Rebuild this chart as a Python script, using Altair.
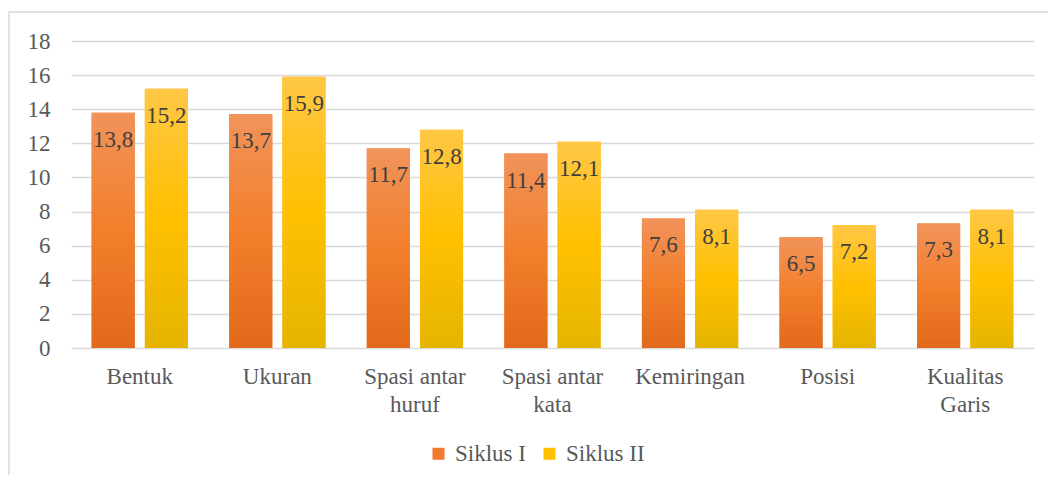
import altair as alt
import pandas as pd

categories = ["Bentuk", "Ukuran", "Spasi antar huruf", "Spasi antar kata",
              "Kemiringan", "Posisi", "Kualitas Garis"]
series = ["Siklus I", "Siklus II"]
siklus1 = [13.8, 13.7, 11.7, 11.4, 7.6, 6.5, 7.3]
siklus2 = [15.2, 15.9, 12.8, 12.1, 8.1, 7.2, 8.1]
wrapped = {
    "Spasi antar huruf": ["Spasi antar", "huruf"],
    "Spasi antar kata": ["Spasi antar", "kata"],
    "Kualitas Garis": ["Kualitas", "Garis"],
}

rows = []
for c, a, b in zip(categories, siklus1, siklus2):
    rows.append({"category": c, "series": series[0], "value": a})
    rows.append({"category": c, "series": series[1], "value": b})
df = pd.DataFrame(rows)

FONT = "'Liberation Serif', 'Times New Roman', 'DejaVu Serif', serif"
FS = 23
label_expr = ""
for k, v in wrapped.items():
    label_expr += f"datum.label == '{k}' ? ['{v[0]}', '{v[1]}'] : "
label_expr += "datum.label"

grad1 = alt.LinearGradient(gradient="linear", x1=0, y1=0, x2=0, y2=1, stops=[
    alt.GradientStop(offset=0, color="#F1935A"),
    alt.GradientStop(offset=0.5, color="#F27F2C"),
    alt.GradientStop(offset=1, color="#E2691B")])
grad2 = alt.LinearGradient(gradient="linear", x1=0, y1=0, x2=0, y2=1, stops=[
    alt.GradientStop(offset=0, color="#FFC746"),
    alt.GradientStop(offset=0.5, color="#FFC000"),
    alt.GradientStop(offset=1, color="#E5B400")])

x_enc = alt.X("category:N", sort=categories,
              scale=alt.Scale(paddingInner=0.3, paddingOuter=0.15),
              axis=alt.Axis(title=None, labelAngle=0, domain=False, ticks=False,
                            labelFont=FONT, labelFontSize=FS, labelColor="#595959",
                            labelPadding=17, labelLineHeight=28, labelExpr=label_expr))
xo_enc = alt.XOffset("series:N", sort=series, scale=alt.Scale(paddingInner=0.19))
y_enc = alt.Y("value:Q", scale=alt.Scale(domain=[0, 18]),
              axis=alt.Axis(title=None, values=list(range(0, 19, 2)), domain=False,
                            ticks=False, grid=True, gridColor="#D9D9D9", gridWidth=1.5,
                            labelFont=FONT, labelFontSize=FS, labelColor="#595959",
                            labelPadding=21))

base = alt.Chart(df)

legend_bars = base.mark_bar().encode(
    x=x_enc, xOffset=xo_enc, y=y_enc,
    color=alt.Color("series:N", sort=series,
                    scale=alt.Scale(domain=series, range=["#EF7A30", "#FFC000"]),
                    legend=alt.Legend(orient="none", legendX=356, legendY=401,
                                      direction="horizontal", title=None,
                                      symbolType="square", symbolSize=144,
                                      symbolStrokeWidth=0, labelFont=FONT,
                                      labelFontSize=FS, labelColor="#595959",
                                      columnPadding=12, labelOffset=5)))

g1 = base.mark_bar(fill=grad1).encode(x=x_enc, xOffset=xo_enc, y=y_enc).transform_filter(
    alt.datum.series == series[0])
g2 = base.mark_bar(fill=grad2).encode(x=x_enc, xOffset=xo_enc, y=y_enc).transform_filter(
    alt.datum.series == series[1])

labels = base.mark_text(dy=27, baseline="middle", font=FONT, fontSize=FS,
                        color="#404040").encode(
    x=x_enc, xOffset=xo_enc, y=y_enc, text="label:N"
).transform_calculate(label="replace(format(datum.value, '.1f'), '.', ',')")

border = alt.Chart(pd.DataFrame({"a": [0]})).mark_rect(
    fill=None, stroke="#D9D9D9", strokeWidth=1.5, clip=False).encode(
    x=alt.value(-62), x2=alt.value(1000), y=alt.value(-29), y2=alt.value(460))

chart = alt.layer(border, legend_bars, g1, g2, labels).properties(
    width=963, height=307,
    padding={"left": 63, "top": 33, "right": 14, "bottom": 127},
    autosize=alt.AutoSizeParams(type="none")
).configure_view(stroke=None)

chart.save("out.html", embed_options={"renderer": "svg", "actions": False})
